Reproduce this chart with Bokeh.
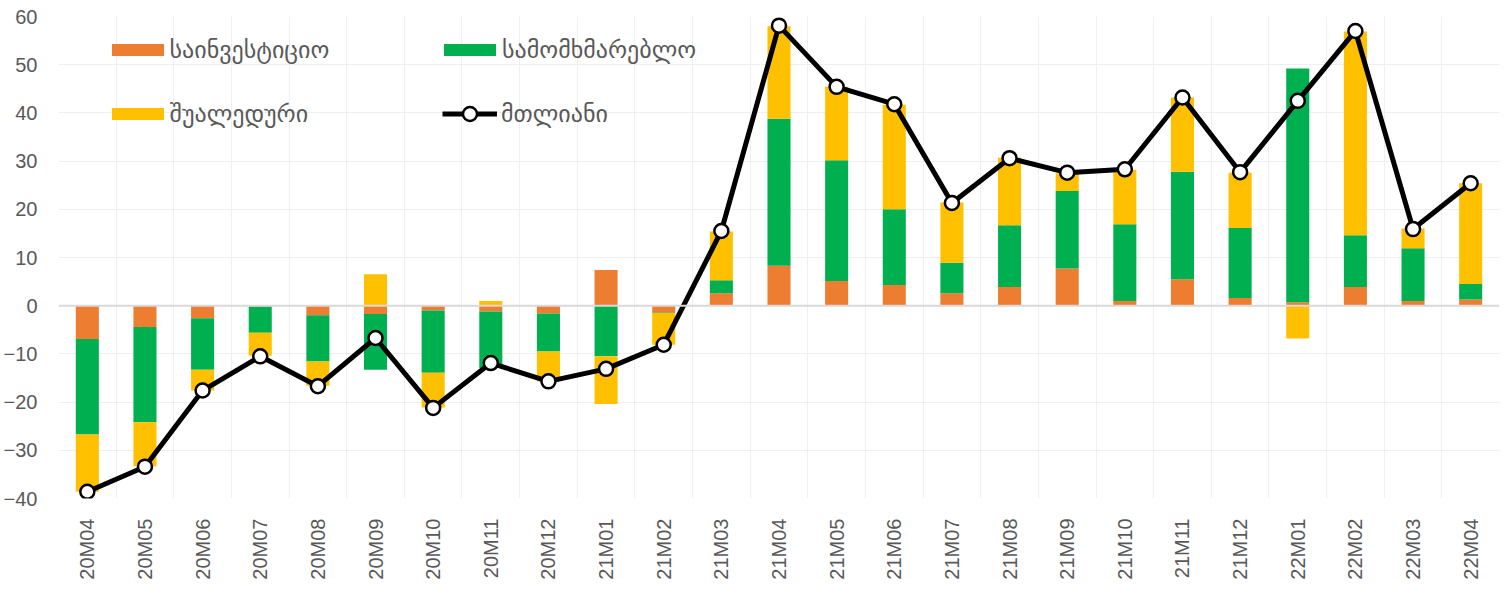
import numpy as np
from bokeh.plotting import figure
from bokeh.models import (ColumnDataSource, Range1d, FixedTicker, Span, Legend, LegendItem)
from bokeh.embed import file_html
from bokeh.resources import INLINE

cats = ["20M04", "20M05", "20M06", "20M07", "20M08", "20M09", "20M10", "20M11", "20M12",
        "21M01", "21M02", "21M03", "21M04", "21M05", "21M06", "21M07", "21M08", "21M09",
        "21M10", "21M11", "21M12", "22M01", "22M02", "22M03", "22M04"]
invest = [-6.9, -4.4, -2.6, -0.2, -2.0, -1.7, -1.0, -1.2, -1.6, 7.4, -1.4, 2.6, 8.3, 5.1,
          4.3, 2.6, 3.9, 7.7, 1.0, 5.5, 1.6, 0.7, 3.9, 1.0, 1.3]
consumer = [-19.8, -19.8, -10.7, -5.4, -9.6, -11.6, -12.9, -11.7, -7.9, -10.5, -0.1, 2.7,
            30.5, 25.1, 15.7, 6.3, 12.8, 16.1, 15.9, 22.3, 14.5, 48.5, 10.7, 10.9, 3.2]
intermediate = [-11.9, -9.1, -4.3, -4.8, -5.0, 6.5, -7.2, 1.0, -6.2, -9.9, -6.6, 10.1,
                19.2, 15.2, 21.7, 12.5, 14.0, 3.7, 11.3, 15.4, 11.5, -6.8, 42.3, 4.1, 20.9]
total = [-38.6, -33.4, -17.6, -10.5, -16.7, -6.7, -21.2, -11.9, -15.7, -13.1, -8.1, 15.5,
         58.1, 45.4, 41.8, 21.3, 30.6, 27.6, 28.3, 43.2, 27.7, 42.5, 57.0, 15.9, 25.4]

names = ["საინვესტიციო", "სამომხმარებლო", "შუალედური", "მთლიანი"]
colors = ["#ED7D31", "#00B050", "#FFC000"]
yticks = list(range(-40, 61, 10))

n = len(cats)
xc = np.arange(n) + 0.5

p = figure(width=1503, height=582, output_backend="svg", toolbar_location=None,
           x_range=Range1d(0, n), y_range=Range1d(-40, 60),
           min_border_left=58, min_border_right=4, min_border_top=16, min_border_bottom=83)
p.outline_line_color = None
p.background_fill_color = "white"

# stacking (positive and negative separately)
pos = np.zeros(n)
neg = np.zeros(n)
bar_renderers = []
for vals, col in zip([invest, consumer, intermediate], colors):
    v = np.array(vals, dtype=float)
    bottom = np.where(v >= 0, pos, neg)
    top = bottom + v
    pos = np.where(v >= 0, top, pos)
    neg = np.where(v < 0, top, neg)
    src = ColumnDataSource(dict(x=xc, bottom=bottom, top=top))
    r = p.vbar(x="x", bottom="bottom", top="top", width=0.4, source=src,
               fill_color=col, line_color=None)
    bar_renderers.append(r)

zero = Span(location=0, dimension="width", line_color="#d9d9d9", line_width=2)
p.add_layout(zero)

lsrc = ColumnDataSource(dict(x=xc, y=total))
lr = p.line(x="x", y="y", source=lsrc, line_color="black", line_width=5)
sr = p.scatter(x="x", y="y", source=lsrc, size=14, fill_color="white",
               line_color="black", line_width=2.5)

# axes
p.yaxis.ticker = FixedTicker(ticks=yticks)
p.xaxis.ticker = FixedTicker(ticks=list(xc))
p.xaxis.major_label_overrides = {float(x): c for x, c in zip(xc, cats)}
for ax in (p.xaxis[0], p.yaxis[0]):
    ax.axis_line_color = None
    ax.major_tick_line_color = None
    ax.minor_tick_line_color = None
    ax.major_label_text_color = "#595959"
    ax.major_label_text_font = "Liberation Sans"
    ax.major_label_text_font_size = "20px"
p.yaxis.major_label_standoff = 15
p.xaxis.major_label_orientation = np.pi / 2
p.xaxis.major_label_standoff = 14

p.ygrid.ticker = FixedTicker(ticks=yticks)
p.ygrid.grid_line_color = "#efefef"
p.xgrid.ticker = FixedTicker(ticks=list(range(0, n + 1)))
p.xgrid.grid_line_color = "#efefef"

def mk_legend(item, loc, gw, gh, standoff):
    lg = Legend(items=[item], location=loc, orientation="vertical",
                padding=0, margin=0, spacing=0, border_line_alpha=0,
                background_fill_alpha=0, glyph_width=gw, glyph_height=gh,
                label_standoff=standoff, label_text_font="DejaVu Sans",
                label_text_font_size="24px", label_text_color="#595959",
                label_height=28)
    p.add_layout(lg, "center")

mk_legend(LegendItem(label=names[0], renderers=[bar_renderers[0]]), (46.5, 434.5), 65, 15, 0)
mk_legend(LegendItem(label=names[2], renderers=[bar_renderers[2]]), (46.5, 370.5), 65, 15, 0)
mk_legend(LegendItem(label=names[1], renderers=[bar_renderers[1]]), (379, 434.5), 65, 15, 0)
mk_legend(LegendItem(label=names[3], renderers=[lr, sr]), (384, 367), 55, 35, 4)

open("out.html", "w").write(file_html(p, INLINE))
